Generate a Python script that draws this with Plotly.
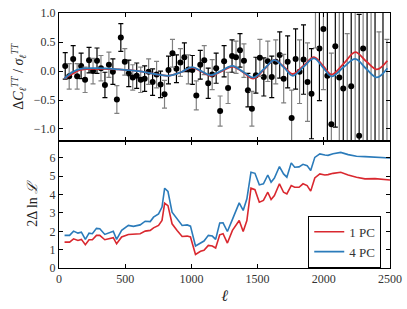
import plotly.graph_objects as go
from plotly.subplots import make_subplots

# ---------------- data: top panel (binned residuals) ----------------
ell_bins = [47, 77, 107, 137, 167, 197, 227, 257, 287, 317, 347, 377, 407, 437, 467, 497,
            527, 557, 587, 617, 647, 677, 707, 737, 767, 797, 827, 857, 887, 917, 947, 977,
            1007, 1037, 1067, 1097, 1127, 1157, 1187, 1217, 1247, 1277, 1307, 1337, 1367, 1397,
            1427, 1457, 1487, 1517, 1547, 1577, 1607, 1637, 1667, 1697, 1727, 1757, 1787, 1817,
            1847, 1877, 1907, 1937, 1967, 1997, 2027, 2057, 2087, 2117, 2147, 2177, 2207, 2237,
            2267, 2297, 2327, 2357, 2387, 2417, 2447, 2477]
resid = [0.09, -0.09, 0.21, -0.09, 0.09, -0.15, 0.19, 0.00, 0.18, 0.05, -0.24, 0.11, -0.01,
         -0.49, 0.58, 0.16, -0.04, -0.11, -0.08, -0.15, -0.13, -0.01, -0.19, -0.06, -0.23,
         -0.40, 0.02, 0.31, 0.04, 0.15, 0.24, 0.03, 0.02, -0.42, 0.11, 0.19, -0.21, -0.06,
         0.05, -0.69, 0.17, -0.29, 0.26, 0.24, 0.36, 0.18, -0.33, -0.65, -0.07, 0.23, -0.10,
         0.17, -0.10, 0.16, 0.28, -0.13, 0.16, -0.81, 0.21, -0.01, 0.20, -0.19, -0.39, 1.35,
         0.39, 0.73, -0.08, -0.92, 0.43, -0.11, -0.30, -1.60, -0.26, 1.50, -1.12, 0.39,
         -1.50, 1.60, -1.40, -1.50, 1.70, -1.40]
resid_err = [0.23, 0.22, 0.23, 0.22, 0.22, 0.22, 0.22, 0.22, 0.22, 0.22, 0.22, 0.22, 0.22,
             0.24, 0.24, 0.23, 0.23, 0.22, 0.22, 0.22, 0.22, 0.22, 0.23, 0.23, 0.23, 0.24,
             0.24, 0.24, 0.24, 0.24, 0.25, 0.25, 0.25, 0.25, 0.25, 0.25, 0.26, 0.26, 0.26,
             0.26, 0.27, 0.27, 0.28, 0.28, 0.29, 0.29, 0.29, 0.30, 0.31, 0.32, 0.33, 0.35,
             0.36, 0.38, 0.40, 0.42, 0.45, 0.48, 0.52, 0.55, 0.60, 0.68, 0.78, 0.95, 0.90,
             1.05, 1.15, 1.23, 1.40, 1.50, 1.60, 2.25, 1.90, 3.00, 2.10, 2.30, 3.00, 3.20,
             3.00, 2.18, 3.20, 1.95]

# smooth model residual curves
curve_ell = [40, 100, 160, 300, 450, 600, 720, 830, 920, 1006, 1075, 1145, 1230, 1310, 1390,
             1467, 1550, 1627, 1700, 1766, 1845, 1926, 1995, 2059, 2150, 2238, 2320, 2401, 2480]
curve_1pc = [-0.13, -0.05, 0.02, 0.04, 0.03, 0.00, -0.05, -0.08, -0.02, 0.06, -0.01, -0.08,
             0.00, 0.08, -0.02, -0.13, 0.03, 0.19, 0.07, -0.05, 0.09, 0.24, 0.09, -0.06, 0.13,
             0.33, 0.17, 0.03, 0.18]
curve_4pc = [-0.13, -0.02, 0.04, 0.05, 0.03, 0.00, -0.05, -0.08, -0.02, 0.07, 0.00, -0.07,
             0.01, 0.09, -0.01, -0.11, 0.04, 0.19, 0.06, -0.08, 0.07, 0.22, 0.06, -0.09, 0.07,
             0.21, 0.04, -0.11, 0.05]

# ---------------- data: bottom panel (2 Delta ln L) ----------------
like_ell = [42, 80, 110, 143, 169, 199, 227, 252, 283, 308, 346, 384, 410, 435, 473, 524, 562,
            613, 651, 689, 714, 752, 778, 798, 823, 854, 892, 930, 968, 993, 1031, 1069, 1095,
            1128, 1158, 1183, 1214, 1239, 1272, 1310, 1361, 1391, 1419, 1450, 1480, 1513, 1544,
            1577, 1602, 1627, 1665, 1696, 1721, 1754, 1780, 1813, 1843, 1874, 1901, 1932, 1970,
            2008, 2032, 2070, 2128, 2184, 2247, 2311, 2387, 2500]
like_4pc = [1.78, 1.78, 2.01, 1.90, 1.95, 1.56, 1.90, 1.87, 2.16, 2.14, 1.83, 1.95, 2.00, 1.56,
            2.05, 2.32, 2.27, 2.35, 2.55, 2.53, 2.77, 2.95, 3.32, 4.35, 4.17, 3.04, 2.68, 2.32,
            2.35, 2.28, 1.20, 1.38, 1.47, 1.78, 1.74, 1.56, 2.45, 2.46, 1.99, 2.65, 3.55, 3.14,
            3.77, 5.22, 5.16, 4.53, 4.59, 5.07, 4.68, 4.90, 5.53, 5.13, 4.95, 5.73, 5.49, 5.51,
            5.65, 5.58, 5.31, 6.03, 6.22, 6.16, 6.14, 6.23, 6.30, 6.18, 6.09, 6.07, 6.03, 6.00]
like_1pc = [1.41, 1.41, 1.59, 1.50, 1.56, 1.27, 1.54, 1.54, 1.78, 1.78, 1.54, 1.60, 1.65, 1.32,
            1.69, 1.83, 1.83, 1.87, 2.01, 2.05, 2.19, 2.32, 2.59, 3.53, 3.40, 2.41, 2.05, 1.72,
            1.74, 1.69, 0.74, 0.91, 0.96, 1.23, 1.20, 1.09, 1.81, 1.87, 1.36, 2.05, 2.59, 1.99,
            2.59, 4.35, 4.27, 3.59, 3.68, 4.13, 3.73, 3.95, 4.59, 4.13, 4.04, 4.49, 4.40, 4.40,
            4.59, 4.49, 4.19, 4.91, 5.13, 5.07, 5.09, 5.16, 5.22, 5.07, 4.95, 4.86, 4.87, 4.80]

grid_ells = [220, 537, 815, 1125, 1425, 1725, 2000]
legend_names = ["1 PC", "4 PC"]

RED = "#d9282f"
BLUE = "#2b7bba"
FONT = "Liberation Serif"

fig = make_subplots(rows=2, cols=1, shared_xaxes=False, vertical_spacing=0)

# vertical grid lines
for g in grid_ells:
    for r in (1, 2):
        fig.add_vline(x=g, line=dict(color="#d9d9d9", width=1), layer="below", row=r, col=1)
fig.add_hline(y=0, line=dict(color="#aaaaaa", width=1, dash="dash"), layer="below", row=1, col=1)

# data points: alternating black / grey error bars
for parity, ecol in ((0, "black"), (1, "#808080")):
    xs = ell_bins[parity::2]
    ys = resid[parity::2]
    es = resid_err[parity::2]
    fig.add_trace(go.Scatter(
        x=xs, y=ys, mode="markers",
        marker=dict(color="black", size=6),
        error_y=dict(type="data", array=es, visible=True, color=ecol, thickness=1.2, width=2.5),
        showlegend=False, hoverinfo="skip"), row=1, col=1)

fig.add_trace(go.Scatter(x=curve_ell, y=curve_1pc, mode="lines", line=dict(color=RED, width=1.8, shape="spline"),
                         showlegend=False), row=1, col=1)
fig.add_trace(go.Scatter(x=curve_ell, y=curve_4pc, mode="lines", line=dict(color=BLUE, width=1.8, shape="spline"),
                         showlegend=False), row=1, col=1)

fig.add_trace(go.Scatter(x=like_ell, y=like_1pc, mode="lines", line=dict(color=RED, width=1.6),
                         name=legend_names[0]), row=2, col=1)
fig.add_trace(go.Scatter(x=like_ell, y=like_4pc, mode="lines", line=dict(color=BLUE, width=1.6),
                         name=legend_names[1]), row=2, col=1)

axis_common = dict(showline=True, linecolor="black", linewidth=1, mirror="ticks",
                   ticks="inside", ticklen=4, tickcolor="black", showgrid=False, zeroline=False,
                   automargin=False, ticklabeloverflow="allow",
                   tickfont=dict(family=FONT, size=12, color="#333"))

fig.update_xaxes(range=[0, 2500], dtick=500, **axis_common)
fig.update_xaxes(showticklabels=False, row=1, col=1)
fig.update_xaxes(title=dict(text="<i>ℓ</i>", font=dict(family=FONT, size=16, color="#222"), standoff=4),
                 row=2, col=1)
fig.update_yaxes(**axis_common)
fig.update_yaxes(range=[-1.2, 1.005], tick0=0, dtick=0.5, tickformat=".1f", domain=[0.5, 1.0],
                 title=dict(text="Δ<i>C</i><sub><i>ℓ</i></sub><sup><i>TT</i></sup> / <i>σ</i><sub><i>ℓ</i></sub><sup><i>TT</i></sup>",
                            font=dict(family=FONT, size=14, color="#222"), standoff=6),
                 row=1, col=1)
fig.update_yaxes(range=[0, 6.95], dtick=1, domain=[0.0, 0.5],
                 title=dict(text="2Δ ln <i>ℒ</i>", font=dict(family=FONT, size=14, color="#222"), standoff=8),
                 row=2, col=1)

fig.update_layout(
    width=407, height=309,
    margin=dict(l=59, r=17, t=13, b=41, autoexpand=False),
    paper_bgcolor="white", plot_bgcolor="white",
    font=dict(family=FONT, size=12, color="#222"),
    legend=dict(x=0.753, y=0.205, xanchor="left", yanchor="top",
                bgcolor="white", bordercolor="black", borderwidth=1,
                font=dict(family=FONT, size=13, color="#333"), itemwidth=30,
                tracegroupgap=0),
)

# remove the default page margin so the figure sits at the window's top-left corner
fig.write_html("out.html", config={"displayModeBar": False},
               post_script="document.body.style.margin='0';document.body.style.overflow='hidden';")
